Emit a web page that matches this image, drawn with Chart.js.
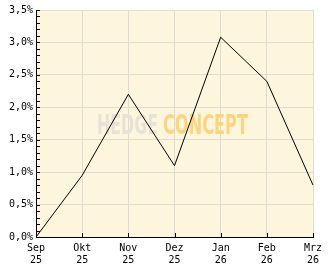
<!DOCTYPE html>
<html>
<head>
<meta charset="utf-8">
<script src="https://cdn.jsdelivr.net/npm/chart.js@4"></script>
<style>
  html, body { margin: 0; padding: 0; background: #fff; }
  canvas { display: block; }
</style>
</head>
<body>
<canvas id="chart" width="332" height="269"></canvas>
<script>
// Monate / Jahre der x-Achse
const monate = ['Sep', 'Okt', 'Nov', 'Dez', 'Jan', 'Feb', 'Mrz'];
const jahre = ['25', '25', '25', '25', '26', '26', '26'];
// Performance in %
const performance = [0.0, 0.95, 2.2, 1.1, 3.08, 2.4, 0.8];
// y-Achse
const yMin = 0;
const yMax = 3.5;
const yStep = 0.5;
const yMinorStep = 0.1;

const plotBg = '#fdf6dd';
const gridColor = '#dedbd3';

function fmtProzent(v) {
  return v.toFixed(1).replace('.', ',') + '%';
}

// Hintergrund der Zeichenfläche + Wasserzeichen
const hintergrund = {
  id: 'hintergrund',
  beforeDraw(chart) {
    const { ctx, chartArea: a } = chart;
    ctx.save();
    ctx.fillStyle = plotBg;
    ctx.fillRect(a.left, a.top, a.right - a.left, a.bottom - a.top);
    ctx.restore();
  },
  beforeDatasetsDraw(chart) {
    const { ctx, chartArea: a } = chart;
    const cx = (a.left + a.right) / 2 - 2;
    const cy = (a.top + a.bottom) / 2 + 10;
    const teile = [
      { text: 'HEDGE', w: 61, color: '#e4e2d9' },
      { text: 'CONCEPT', w: 85, color: '#fcd47e' },
    ];
    const gap = 5;
    const total = teile[0].w + gap + teile[1].w;
    let x = cx - total / 2;
    ctx.save();
    ctx.font = 'bold 27px "Liberation Sans Narrow", "DejaVu Sans Condensed", sans-serif';
    ctx.textBaseline = 'alphabetic';
    teile.forEach(t => {
      const m = ctx.measureText(t.text).width;
      ctx.save();
      ctx.translate(x, cy);
      ctx.scale(t.w / m, 1);
      ctx.fillStyle = t.color;
      ctx.fillText(t.text, 0, 0);
      ctx.restore();
      x += t.w + gap;
    });
    ctx.restore();
  },
  afterDraw(chart) {
    // kleine Striche innen an den Achsen
    const { ctx, chartArea: a, scales } = chart;
    ctx.save();
    ctx.strokeStyle = '#000';
    ctx.lineWidth = 1;
    ctx.beginPath();
    for (let v = yMin; v <= yMax + 1e-9; v += yMinorStep) {
      const y = Math.round(scales.y.getPixelForValue(v)) + 0.5;
      ctx.moveTo(a.left, y);
      ctx.lineTo(a.left + 4, y);
    }
    monate.forEach((m, i) => {
      const x = Math.round(scales.x.getPixelForValue(i)) + 0.5;
      ctx.moveTo(x, a.bottom);
      ctx.lineTo(x, a.bottom - 4);
    });
    ctx.stroke();
    ctx.restore();
  }
};

Chart.defaults.font.family = '"DejaVu Sans Mono", monospace';
Chart.defaults.font.size = 10;
Chart.defaults.color = '#000';

new Chart(document.getElementById('chart'), {
  type: 'line',
  data: {
    labels: monate.map((m, i) => [m, jahre[i]]),
    datasets: [{
      data: performance,
      borderColor: '#000',
      borderWidth: 1,
      pointRadius: 0,
      tension: 0,
      fill: false,
    }],
  },
  options: {
    responsive: false,
    animation: false,
    layout: { padding: { top: 10, right: 19, left: 0, bottom: 0 } },
    plugins: {
      legend: { display: false },
      tooltip: { enabled: false },
    },
    scales: {
      x: {
        offset: false,
        grid: { color: gridColor, drawTicks: false },
        border: { color: '#000', width: 1 },
        ticks: {
          padding: 5,
          maxRotation: 0,
          autoSkip: false,
          font: { lineHeight: 1.2 },
        },
        afterFit(s) { s.height = 32; },
      },
      y: {
        min: yMin,
        max: yMax,
        grid: { color: gridColor, drawTicks: false },
        border: { color: '#000', width: 1 },
        ticks: {
          stepSize: yStep,
          padding: 3,
          callback: v => fmtProzent(v),
        },
        afterFit(s) { s.width = 36; },
      },
    },
  },
  plugins: [hintergrund],
});
</script>
</body>
</html>
